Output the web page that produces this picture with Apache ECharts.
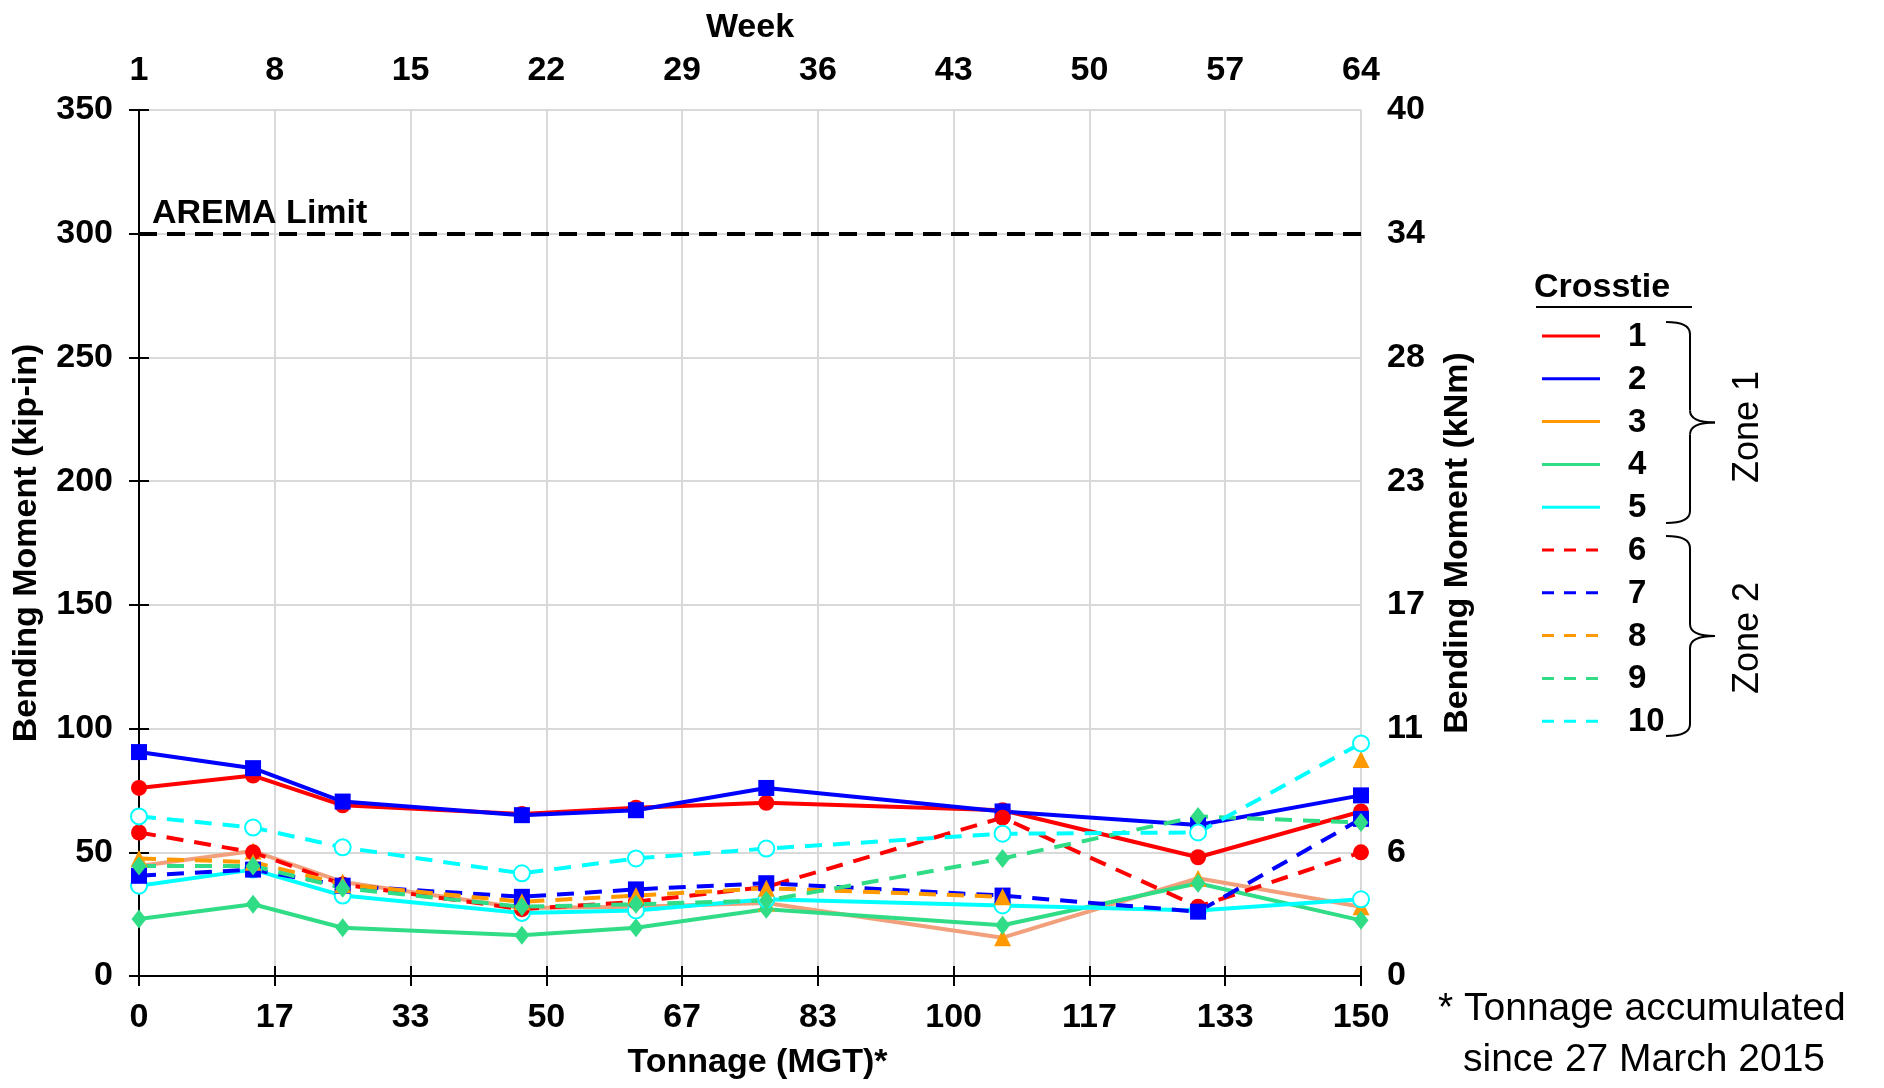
<!DOCTYPE html>
<html>
<head>
<meta charset="utf-8">
<script src="https://cdn.jsdelivr.net/npm/echarts@6/dist/echarts.min.js"></script>
<style>html,body{margin:0;padding:0;background:#fff;}#c{width:1884px;height:1088px;}</style>
</head>
<body>
<div id="c"></div>
<script>
// ---- data ----
var tonnage = [0, 14, 25, 47, 61, 77, 106, 130, 150];
var crosstie1 = [76, 81, 69, 65.5, 68, 70, 67, 48, 66.5];
var crosstie2 = [90.5, 84, 70.5, 65, 67, 76, 66.5, 61, 73];
var crosstie3 = [44.5, 50.5, 38, 27.5, 28, 29.5, 15.5, 39.5, 28];
var crosstie4 = [23, 29, 19.5, 16.5, 19.5, 27, 20.5, 37.5, 22.5];
var crosstie5 = [36.5, 43, 32.5, 25.5, 26.5, 31, 28.5, 26.5, 31];
var crosstie6 = [58, 50, 37, 27, 30, 36, 64, 28, 50];
var crosstie7 = [40.5, 43, 36.5, 32, 35, 37.5, 32.5, 26, 63.5];
var crosstie8 = [47.5, 46, 37, 30, 32.5, 35.5, 32, null, 87.5];
var crosstie9 = [44.5, 44.5, 35.5, 28, 29, 30.5, 47.5, 64.5, 62];
var crosstie10 = [64.5, 60, 52, 41.5, 47.5, 51.5, 57.5, 58, 94];
var aremaLimit = 300;

var tonnageTickLabels = ['0','17','33','50','67','83','100','117','133','150'];
var weekTickLabels = ['1','8','15','22','29','36','43','50','57','64'];
var kipTickLabels = ['0','50','100','150','200','250','300','350'];
var kNmTickLabels = ['0','6','11','17','23','28','34','40'];
var seriesNames = ['1','2','3','4','5','6','7','8','9','10'];

// ---- styles ----
var FONT = 'Liberation Sans, Arial, sans-serif';
var RED = '#FF0000', BLUE = '#0000FF', ORANGE = '#FF9900', GREEN = '#30DC85', CYAN = '#00FFFF';
var SALMON = '#F2A07C';
var allData = [crosstie1, crosstie2, crosstie3, crosstie4, crosstie5, crosstie6, crosstie7, crosstie8, crosstie9, crosstie10];
var lineColors = [RED, BLUE, SALMON, GREEN, CYAN, RED, BLUE, ORANGE, GREEN, CYAN];
var markColors = [RED, BLUE, ORANGE, GREEN, CYAN, RED, BLUE, ORANGE, GREEN, CYAN];
var legendColors = [RED, BLUE, ORANGE, GREEN, CYAN, RED, BLUE, ORANGE, GREEN, CYAN];
var symbols = ['circle','rect','triangle','diamond','emptyCircle','circle','rect','triangle','diamond','emptyCircle'];
var symSizes = [16, 16, 17, [15,19], 16, 16, 16, 17, [15,19], 16];

var xInt = 150 / 9;

var series = allData.map(function (arr, i) {
  var dashed = i >= 5;
  return {
    name: seriesNames[i],
    type: 'line',
    data: tonnage.map(function (t, k) { return [t, arr[k]]; }),
    connectNulls: false,
    symbol: symbols[i],
    symbolSize: symSizes[i],
    showAllSymbol: true,
    lineStyle: { color: lineColors[i], width: 4, type: dashed ? [17, 11] : 'solid' },
    itemStyle: { color: markColors[i], borderColor: markColors[i], borderWidth: symbols[i] === 'emptyCircle' ? 2.5 : 0 },
    emphasis: { disabled: true },
    animation: false
  };
});
series[0].markLine = {
  silent: true,
  symbol: 'none',
  animation: false,
  data: [{ yAxis: aremaLimit }],
  lineStyle: { color: '#000', type: [18, 10], width: 4 },
  label: {
    show: true, position: 'insideStartTop', formatter: 'AREMA Limit',
    color: '#000', fontFamily: FONT, fontWeight: 'bold', fontSize: 34, distance: [13, 3]
  }
};

var chart = echarts.init(document.getElementById('c'));

var axisLineStyle = { lineStyle: { color: '#000', width: 2 } };
var tickStyle = { show: true, inside: false, length: 10, lineStyle: { color: '#000', width: 2 } };
var labelBase = { color: '#000', fontFamily: FONT, fontWeight: 'bold', fontSize: 34 };
var nameBase = { color: '#000', fontFamily: FONT, fontWeight: 'bold', fontSize: 34 };
var gridLine = { show: true, lineStyle: { color: '#d9d9d9', width: 2 } };

// legend graphics
var graphics = [];
var lgX0 = 1542, lgX1 = 1600, lgLabelX = 1628, lgY0 = 336, lgDy = 42.8;
graphics.push({ type: 'text', x: 1534, y: 288,
  style: { text: 'Crosstie', font: 'bold 34px ' + FONT, fill: '#000', align: 'left', verticalAlign: 'middle' } });
graphics.push({ type: 'line', shape: { x1: 1536, y1: 307, x2: 1692, y2: 307 }, style: { stroke: '#000', lineWidth: 2 } });
seriesNames.forEach(function (n, i) {
  var y = lgY0 + i * lgDy;
  graphics.push({ type: 'line', shape: { x1: lgX0, y1: y, x2: lgX1, y2: y },
    style: { stroke: legendColors[i], lineWidth: 3, lineDash: i >= 5 ? [12, 10] : null } });
  graphics.push({ type: 'text', x: lgLabelX, y: y + 1,
    style: { text: n, font: 'bold 33px ' + FONT, fill: '#000', align: 'left', verticalAlign: 'middle' } });
});
function pushBrace(top, bottom) {
  var mid = (top + bottom) / 2;
  var xh = 1666, xv = 1690, xt = 1715, r = 12;
  var st = { stroke: '#000', lineWidth: 2, fill: null };
  graphics.push({ type: 'bezierCurve', shape: { x1: xh, y1: top, x2: xv, y2: top + r, cpx1: xv, cpy1: top }, style: st });
  graphics.push({ type: 'line', shape: { x1: xv, y1: top + r, x2: xv, y2: mid - r }, style: st });
  graphics.push({ type: 'bezierCurve', shape: { x1: xv, y1: mid - r, x2: xt, y2: mid, cpx1: xv, cpy1: mid }, style: st });
  graphics.push({ type: 'bezierCurve', shape: { x1: xt, y1: mid, x2: xv, y2: mid + r, cpx1: xv, cpy1: mid }, style: st });
  graphics.push({ type: 'line', shape: { x1: xv, y1: mid + r, x2: xv, y2: bottom - r }, style: st });
  graphics.push({ type: 'bezierCurve', shape: { x1: xv, y1: bottom - r, x2: xh, y2: bottom, cpx1: xv, cpy1: bottom }, style: st });
}
pushBrace(322, 523);
pushBrace(536, 736);
graphics.push({ type: 'text', x: 1748, y: 427, rotation: Math.PI / 2,
  style: { text: 'Zone 1', font: '36px ' + FONT, fill: '#000', align: 'center', verticalAlign: 'middle' } });
graphics.push({ type: 'text', x: 1748, y: 638, rotation: Math.PI / 2,
  style: { text: 'Zone 2', font: '36px ' + FONT, fill: '#000', align: 'center', verticalAlign: 'middle' } });
graphics.push({ type: 'text', x: 1438, y: 1009,
  style: { text: '* Tonnage accumulated', font: '39px ' + FONT, fill: '#000', align: 'left', verticalAlign: 'middle' } });
graphics.push({ type: 'text', x: 1463, y: 1060,
  style: { text: 'since 27 March 2015', font: '39px ' + FONT, fill: '#000', align: 'left', verticalAlign: 'middle' } });

chart.setOption({
  animation: false,
  backgroundColor: '#fff',
  grid: { left: 139, right: 523, top: 110, bottom: 112, containLabel: false },
  xAxis: [
    {
      type: 'value', position: 'bottom', min: 0, max: 150, interval: xInt,
      name: 'Tonnage (MGT)*', nameLocation: 'middle', nameGap: 70,
      nameTextStyle: Object.assign({ padding: [0, 0, 0, 15] }, nameBase),
      axisLine: axisLineStyle, axisTick: tickStyle, splitLine: gridLine,
      axisLabel: Object.assign({ margin: 25, formatter: function (v) { return tonnageTickLabels[Math.round(v / xInt)]; } }, labelBase)
    },
    {
      type: 'value', position: 'top', min: 0, max: 150, interval: xInt,
      name: 'Week', nameLocation: 'middle', nameGap: 65, nameTextStyle: nameBase,
      axisLine: axisLineStyle, axisTick: tickStyle, splitLine: { show: false },
      axisLabel: Object.assign({ margin: 22, formatter: function (v) { return weekTickLabels[Math.round(v / xInt)]; } }, labelBase)
    }
  ],
  yAxis: [
    {
      type: 'value', position: 'left', min: 0, max: 350, interval: 50,
      name: 'Bending Moment (kip-in)', nameLocation: 'middle', nameGap: 95, nameTextStyle: nameBase,
      axisLine: axisLineStyle, axisTick: tickStyle, splitLine: gridLine,
      axisLabel: Object.assign({ margin: 26, formatter: function (v) { return kipTickLabels[Math.round(v / 50)]; } }, labelBase)
    },
    {
      type: 'value', position: 'right', min: 0, max: 350, interval: 50,
      name: 'Bending Moment (kNm)', nameLocation: 'middle', nameGap: 80, nameTextStyle: nameBase,
      axisLine: axisLineStyle, axisTick: tickStyle, splitLine: { show: false },
      axisLabel: Object.assign({ margin: 26, formatter: function (v) { return kNmTickLabels[Math.round(v / 50)]; } }, labelBase)
    }
  ],
  series: series,
  graphic: graphics
});
</script>
</body>
</html>
